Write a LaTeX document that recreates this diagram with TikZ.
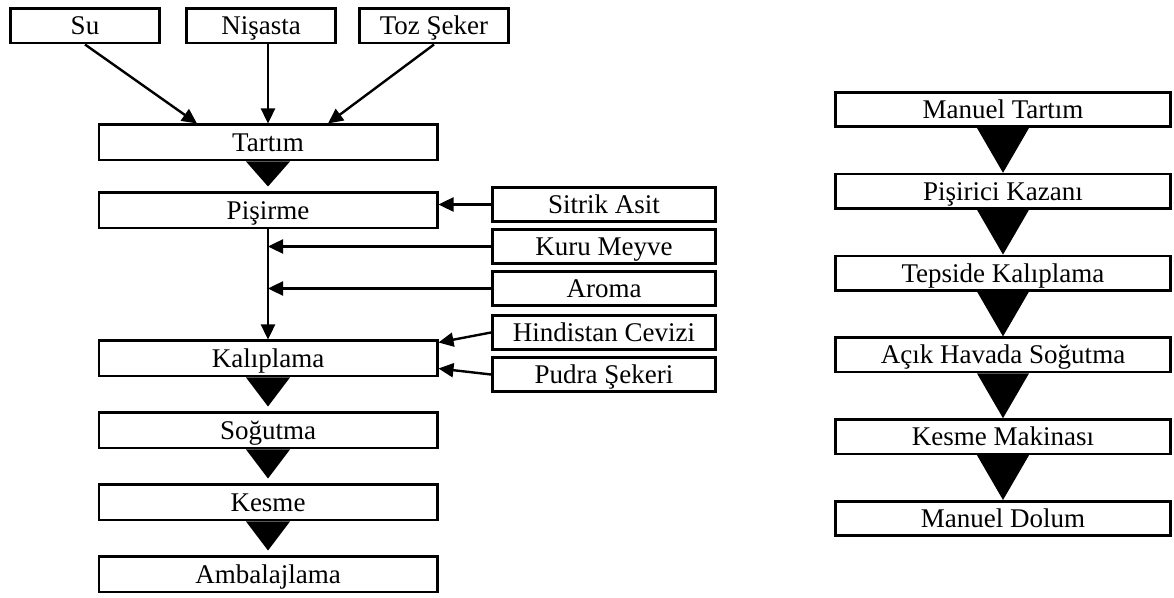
\documentclass[tikz,border=0pt]{standalone}
\usepackage{fontspec}
\setmainfont{Liberation Serif}
\usetikzlibrary{
  arrows.meta,
  positioning
}
\tikzstyle{stepbox} = [
  rectangle, draw=black, line width=1.3pt, fill=white,
  minimum width=169.2pt, minimum height=17.7pt, inner sep=0pt,
  text height=9pt, text depth=0pt,
  align=center, font=\fontsize{13.5}{15}\selectfont
]
\tikzstyle{inbox} = [
  rectangle, draw=black, line width=1.3pt, fill=white,
  minimum width=74.7pt, minimum height=17.2pt, inner sep=0pt,
  text height=9pt, text depth=0pt,
  align=center, font=\fontsize{13.5}{15}\selectfont
]
\tikzstyle{addbox} = [
  rectangle, draw=black, line width=1.3pt, fill=white,
  minimum width=111.7pt, minimum height=17.2pt, inner sep=0pt,
  text height=9pt, text depth=0pt,
  align=center, font=\fontsize{13.5}{15}\selectfont
]
\tikzstyle{machbox} = [
  rectangle, draw=black, line width=1.3pt, fill=white,
  minimum width=167.7pt, minimum height=17.2pt, inner sep=0pt,
  text height=9pt, text depth=0pt,
  align=center, font=\fontsize{13.5}{15}\selectfont
]
\tikzstyle{arrowstyle} = [-{Triangle[length=7.5pt,width=7pt]}, line width=1.2pt]

\begin{document}
\begin{tikzpicture}[x=0.5pt, y=-0.5pt]
\useasboundingbox (0,0) rectangle (1174,598);

% --- Raw materials ---
\node[inbox] (su) at (85,26) {Su};
\node[inbox, right=12pt of su] (nisasta) {Nişasta};
\node[inbox, right=10.5pt of nisasta] (tozseker) {Toz Şeker};

% --- Process steps ---
\node[stepbox] (tartim) at (268,142.5) {Tartım};
\node[stepbox, below=15pt of tartim] (pisirme) {Pişirme};
\node[stepbox, below=55pt of pisirme] (kaliplama) {Kalıplama};
\node[stepbox, below=17pt of kaliplama] (sogutma) {Soğutma};
\node[stepbox, below=17pt of sogutma] (kesme) {Kesme};
\node[stepbox, below=17pt of kesme] (ambalaj) {Ambalajlama};

% --- Additives ---
\node[addbox] (sitrik) at (604,204.5) {Sitrik Asit};
\node[addbox, below=2.5pt of sitrik] (kurumeyve) {Kuru Meyve};
\node[addbox, below=2.5pt of kurumeyve] (aroma) {Aroma};
\node[addbox, below=3.5pt of aroma] (hindistan) {Hindistan Cevizi};
\node[addbox, below=2.5pt of hindistan] (pudra) {Pudra Şekeri};

% --- Equipment ---
\node[machbox] (mtartim) at (1003,109.5) {Manuel Tartım};
\node[machbox, below=22.4pt of mtartim] (kazan) {Pişirici Kazanı};
\node[machbox, below=22.4pt of kazan] (tepsi) {Tepside Kalıplama};
\node[machbox, below=22.4pt of tepsi] (havada) {Açık Havada Soğutma};
\node[machbox, below=22.4pt of havada] (kmakina) {Kesme Makinası};
\node[machbox, below=22.4pt of kmakina] (dolum) {Manuel Dolum};

% --- Arrows ---
\draw[arrowstyle] (su.south) -- ([xshift=-35.5pt]tartim.north);
\draw[arrowstyle] (nisasta.south -| tartim.north) -- (tartim.north);
\draw[arrowstyle] (tozseker.south) -- ([xshift=30pt]tartim.north);

\draw[arrowstyle] (sitrik.west) -- (pisirme.east |- sitrik.west);
\draw[arrowstyle] (kurumeyve.west) -- (kurumeyve.west -| pisirme.south);
\draw[arrowstyle] (aroma.west) -- (aroma.west -| pisirme.south);
\draw[arrowstyle] (pisirme.south) -- (kaliplama.north);
\draw[arrowstyle] (hindistan.west) -- ([yshift=8pt]kaliplama.east);
\draw[arrowstyle] (pudra.west) -- ([yshift=-5pt]kaliplama.east);

% --- Flow triangles ---
\fill (tartim.south) ++(-22,0) -- ++(44,0) -- ([yshift=2.5pt]pisirme.north) -- cycle;
\fill (kaliplama.south) ++(-22,0) -- ++(44,0) -- ([yshift=2.5pt]sogutma.north) -- cycle;
\fill (sogutma.south) ++(-22,0) -- ++(44,0) -- ([yshift=2.5pt]kesme.north) -- cycle;
\fill (kesme.south) ++(-22,0) -- ++(44,0) -- ([yshift=2.5pt]ambalaj.north) -- cycle;

\fill (mtartim.south) ++(-26,0) -- ++(52,0) -- (kazan.north) -- cycle;
\fill (kazan.south) ++(-26,0) -- ++(52,0) -- (tepsi.north) -- cycle;
\fill (tepsi.south) ++(-26,0) -- ++(52,0) -- (havada.north) -- cycle;
\fill (havada.south) ++(-26,0) -- ++(52,0) -- (kmakina.north) -- cycle;
\fill (kmakina.south) ++(-26,0) -- ++(52,0) -- (dolum.north) -- cycle;

\end{tikzpicture}
\end{document}
